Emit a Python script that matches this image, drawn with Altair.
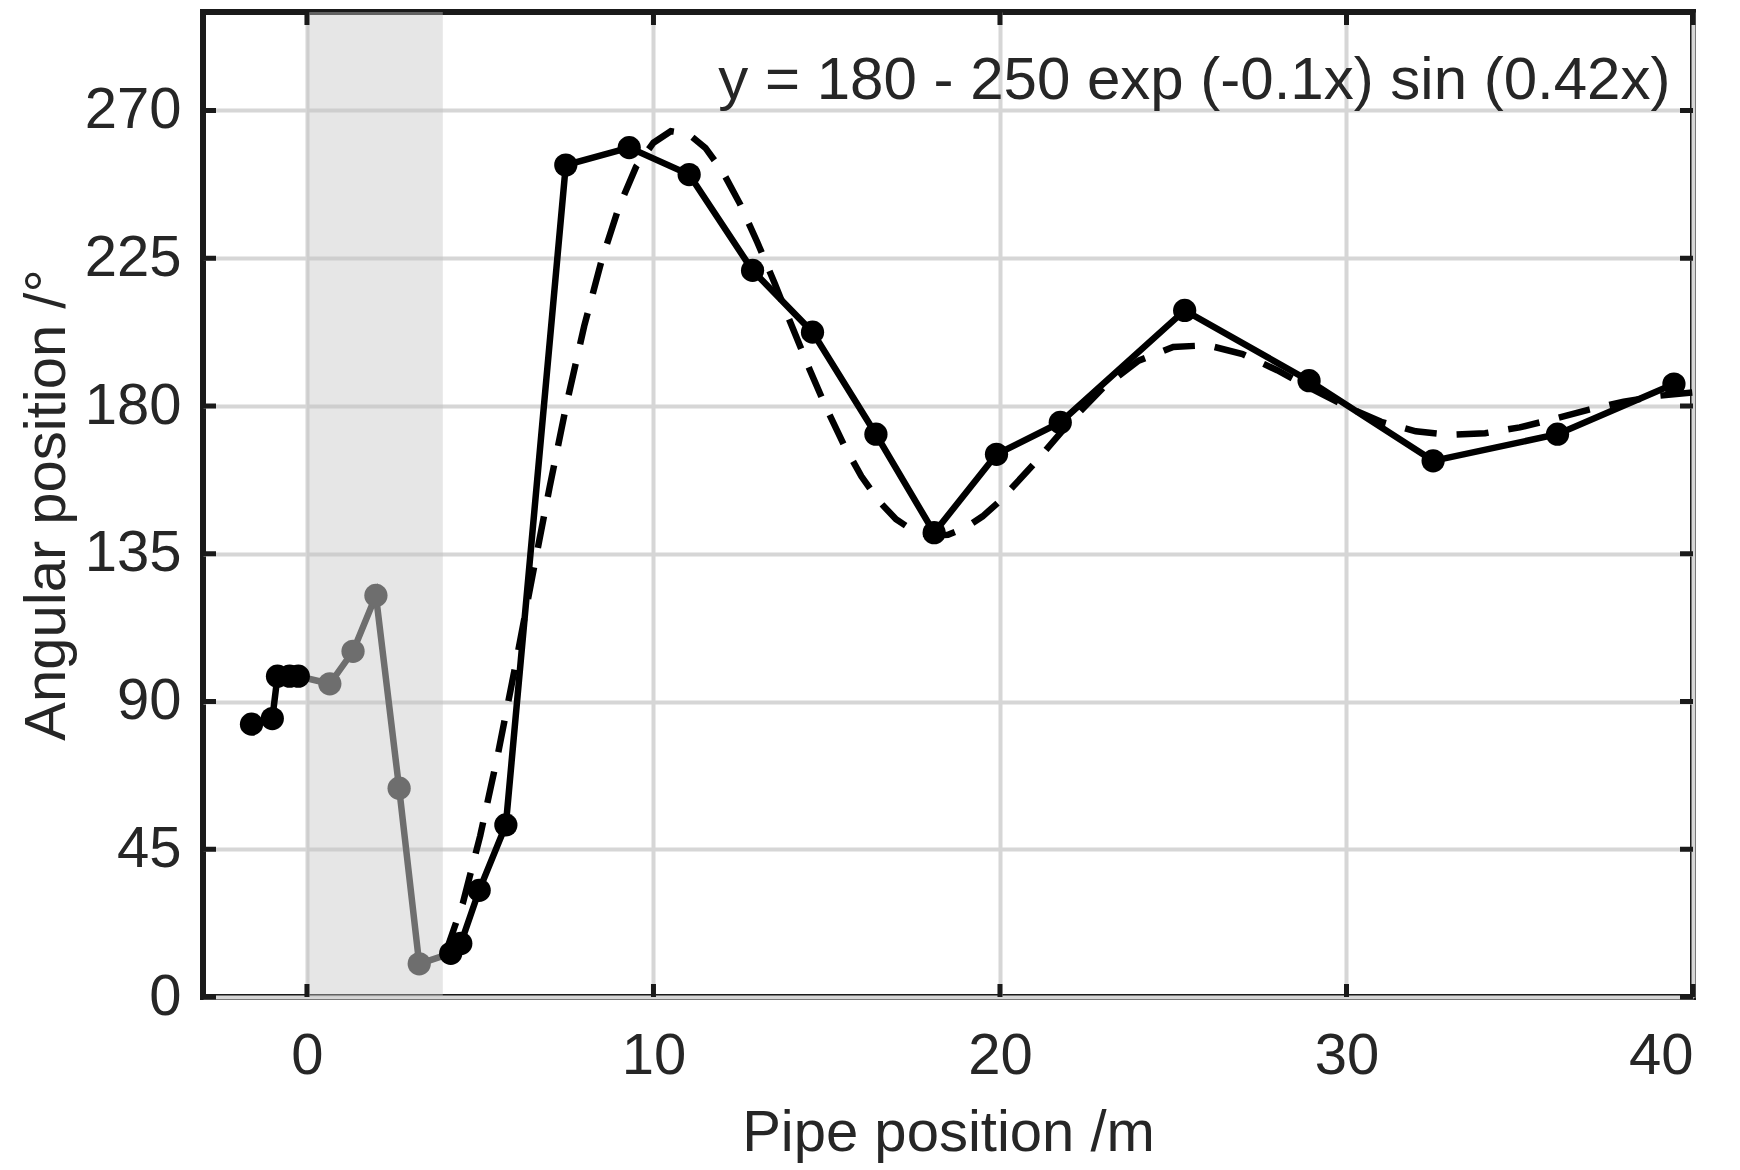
import altair as alt
import pandas as pd

# ---- data ----
pre_x = [-1.6, -1.0, -0.85, -0.5, -0.25]
pre_y = [83.1, 84.8, 97.7, 97.7, 97.7]

gray_x = [-0.25, 0.66, 1.33, 1.99, 2.66, 3.24, 4.15]
gray_y = [97.7, 95.4, 105.3, 122.3, 63.6, 10.1, 13.3]
gray_marker = [False, True, True, True, True, True, False]

main_x = [4.15, 4.44, 4.97, 5.74, 7.47, 9.3, 11.03, 12.86, 14.59, 16.42, 18.1,
          19.9, 21.74, 25.33, 28.92, 32.5, 36.09, 39.45]
main_y = [13.3, 16.3, 32.5, 52.4, 253.4, 258.7, 250.5, 221.3, 202.5, 171.4, 141.4,
          165.3, 175.0, 209.1, 187.7, 163.3, 171.4, 186.7]

fit_x = [4, 4.5, 5, 5.5, 6, 6.5, 7, 7.5, 8, 8.5, 9, 9.5, 10, 10.5, 11, 11.5, 12, 12.5,
         13, 13.5, 14, 14.5, 15, 15.5, 16, 16.5, 17, 17.5, 18, 18.5, 19, 19.5, 20,
         21, 22, 23, 24, 25, 26, 27, 28, 29, 30, 31, 32, 33, 34, 35, 36, 37, 38, 39, 40]
fit_y = [13.4, 28.6, 49.1, 73.4, 100.1, 127.9, 155.1, 181.0, 204.3, 224.2, 240.5, 252.9,
         260.2, 263.7, 262.9, 258.6, 251.3, 241.5, 229.8, 217.3, 204.2, 191.3, 179.1,
         168.1, 158.6, 151.1, 145.5, 142.0, 140.5, 140.8, 142.9, 146.4, 151.1,
         162.6, 174.9, 185.8, 193.8, 198.0, 198.5, 195.8, 190.9, 185.2, 179.8, 175.2,
         172.3, 171.2, 171.7, 173.5, 176.1, 178.9, 181.3, 183.1, 184.1]

band_start = [0]
band_end = [3.92]

x_ticks = [0, 10, 20, 30, 40]
y_ticks = [0, 45, 90, 135, 180, 225, 270]

equation = "y = 180 - 250 exp (-0.1x) sin (0.42x)"
x_title = "Pipe position /m"
y_title = "Angular position /°"

# ---- layout ----
W, H = 1490, 985
FONT = "Liberation Sans"
FS = 58
TXT = "#262626"
TICK = 13
LW = 6.5
MS = 540

xs = alt.Scale(domain=[-3, 40], nice=False, zero=False)
ys = alt.Scale(domain=[0, 300], nice=False, zero=False)

pre_df = pd.DataFrame({"x": pre_x, "y": pre_y})
gray_df = pd.DataFrame({"x": gray_x, "y": gray_y, "m": gray_marker})
main_df = pd.DataFrame({"x": main_x, "y": main_y})
fit_df = pd.DataFrame({"x": fit_x, "y": fit_y})
band_df = pd.DataFrame({"x": band_start, "x2": band_end})
xt_df = pd.DataFrame({"x": x_ticks})
yt_df = pd.DataFrame({"y": y_ticks})

X = alt.X("x:Q", scale=xs,
          axis=alt.Axis(values=x_ticks, title=x_title, grid=True, gridColor="#d6d6d6",
                        gridWidth=4, ticks=False, domain=False, labelFont=FONT,
                        labelFontSize=FS, labelColor=TXT, labelPadding=30,
                        titleFont=FONT, titleFontSize=FS, titleColor=TXT,
                        titleFontWeight="normal", titleY=136, titleBaseline="middle"))
Y = alt.Y("y:Q", scale=ys,
          axis=alt.Axis(values=y_ticks, title=y_title, grid=True, gridColor="#d6d6d6",
                        gridWidth=4, ticks=False, domain=False, labelFont=FONT,
                        labelFontSize=FS, labelColor=TXT, labelPadding=22,
                        titleFont=FONT, titleFontSize=FS, titleColor=TXT,
                        titleFontWeight="normal", titleX=-156, titleY=H / 2,
                        titleAngle=270, titleAlign="center", titleBaseline="middle"))

base_axes = alt.Chart(main_df).mark_point(opacity=0).encode(x=X, y=Y)

band = alt.Chart(band_df).mark_rect(color="#c4c4c4", opacity=0.42).encode(
    x="x:Q", x2="x2:Q", y=alt.value(0), y2=alt.value(H))

fit = alt.Chart(fit_df).mark_line(color="black", strokeWidth=LW,
                                  strokeDash=[32, 20]).encode(x="x:Q", y="y:Q")

gray_line = alt.Chart(gray_df).mark_line(color="#6e6e6e", strokeWidth=LW).encode(
    x="x:Q", y="y:Q")
gray_pts = alt.Chart(gray_df).transform_filter("datum.m").mark_circle(
    color="#6e6e6e", size=MS, opacity=1).encode(x="x:Q", y="y:Q")

pre_line = alt.Chart(pre_df).mark_line(color="black", strokeWidth=LW).encode(
    x="x:Q", y="y:Q")
pre_pts = alt.Chart(pre_df).mark_circle(color="black", size=MS, opacity=1).encode(
    x="x:Q", y="y:Q")

main_line = alt.Chart(main_df).mark_line(color="black", strokeWidth=LW).encode(
    x="x:Q", y="y:Q")
main_pts = alt.Chart(main_df).mark_circle(color="black", size=MS, opacity=1).encode(
    x="x:Q", y="y:Q")

# inward ticks on all four sides
xt_bot = alt.Chart(xt_df).mark_rule(color="#1a1a1a", strokeWidth=5).encode(
    x="x:Q", y=alt.value(H), y2=alt.value(H - TICK))
xt_top = alt.Chart(xt_df).mark_rule(color="#1a1a1a", strokeWidth=5).encode(
    x="x:Q", y=alt.value(0), y2=alt.value(TICK))
yt_left = alt.Chart(yt_df).mark_rule(color="#1a1a1a", strokeWidth=5).encode(
    y="y:Q", x=alt.value(0), x2=alt.value(TICK))
yt_right = alt.Chart(yt_df).mark_rule(color="#1a1a1a", strokeWidth=5).encode(
    y="y:Q", x=alt.value(W), x2=alt.value(W - TICK))

eq_df = pd.DataFrame({"x": [39.35], "y": [279.0], "t": [equation]})
eq = alt.Chart(eq_df).mark_text(font=FONT, fontSize=60, color=TXT, align="right",
                                baseline="middle").encode(x="x:Q", y="y:Q", text="t:N")

chart = alt.layer(
    base_axes, band, fit, gray_line, gray_pts, pre_line, pre_pts, main_line, main_pts,
    xt_bot, xt_top, yt_left, yt_right, eq
).properties(
    width=W, height=H,
    autosize=alt.AutoSizeParams(type="none"),
    padding={"left": 203, "top": 12, "right": 47, "bottom": 173},
    background="white",
).configure_view(stroke="#1a1a1a", strokeWidth=6)

chart.save("out.html", embed_options={"renderer": "svg", "actions": False})
